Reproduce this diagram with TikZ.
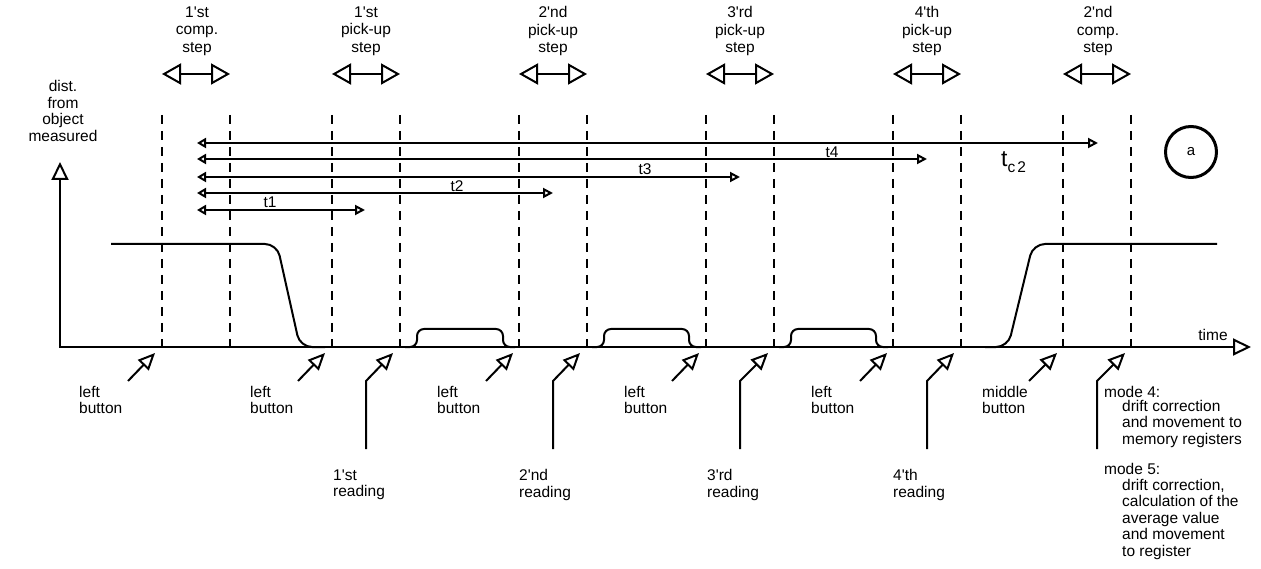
\documentclass[tikz,border=0pt]{standalone}
\usepackage{fontspec}
\setmainfont{Liberation Sans}
\usetikzlibrary{arrows.meta}
\newcommand{\ap}{\textquotesingle}
\begin{document}
\begin{tikzpicture}[x=1pt,y=-1pt,
  lbl/.style={font=\fontsize{15.5}{16.5}\selectfont, inner sep=0pt, align=left, anchor=west},
  toplbl/.style={font=\fontsize{15.5}{17.5}\selectfont, inner sep=0pt, align=center},
  tlbl/.style={font=\fontsize{15.5}{16}\selectfont, inner sep=0pt},
  dline/.style={line width=2.5pt, dash pattern=on 9pt off 7pt},
  sig/.style={line width=2pt, rounded corners=12pt},
  bump/.style={line width=2pt, rounded corners=7pt},
  stepar/.style={line width=2pt, {Triangle[open,length=19pt,width=21pt]}-{Triangle[open,length=19pt,width=21pt]}},
  tar/.style={line width=2pt, {Triangle[open,length=9pt,width=10pt]}-{Triangle[open,length=10pt,width=10pt]}},
  axis/.style={line width=2pt, {Triangle[open,length=18pt,width=17pt]}-{Triangle[open,length=18pt,width=17pt]}},
  barrow/.style={line width=2pt, -{Triangle[open,length=17pt,width=15pt]}},
]
\useasboundingbox (0,0) rectangle (1261,569);

% dashed lines
\foreach \n/\x in {1/162,2/230,3/332,4/400,5/519,6/587,7/706,8/774,9/893,10/961,11/1063,12/1131}{
  \coordinate (dt\n) at (\x,115);
  \coordinate (db\n) at (\x,347);
  \draw[dline] (dt\n) -- (db\n);
}

% step labels and arrows
\node[toplbl] (s1) at (197,31) {1\ap st\\comp.\\step};
\node[toplbl] (s2) at (366,31) {1\ap st\\pick-up\\step};
\node[toplbl] (s3) at (553,31) {2\ap nd\\pick-up\\step};
\node[toplbl] (s4) at (740,31) {3\ap rd\\pick-up\\step};
\node[toplbl] (s5) at (927,31) {4\ap th\\pick-up\\step};
\node[toplbl] (s6) at (1098,31) {2\ap nd\\comp.\\step};
\foreach \a/\b/\n in {162/230/1,332/400/2,519/587/3,706/774/4,893/961/5,1063/1131/6}{
  \coordinate (sl\n) at (\a,74);
  \coordinate (sr\n) at (\b,74);
  \draw[stepar] (sl\n) -- (sr\n);
}

% time interval arrows
\foreach \y/\e/\n in {143/1098/5,159/927/4,177/740/3,193/553/2,210/365/1}{
  \coordinate (tl\n) at (197,\y);
  \coordinate (tr\n) at (\e,\y);
  \draw[tar] (tl\n) -- (tr\n);
}
\node[tlbl] (t1) at (270,202) {t1};
\node[tlbl] (t2) at (457,186) {t2};
\node[tlbl] (t3) at (645,169) {t3};
\node[tlbl] (t4) at (832,152) {t4};
\node[inner sep=0pt, anchor=base west] (tc) at (1001,167)
  {{\fontsize{23}{23}\selectfont t}{\fontsize{15.5}{16}\selectfont\raisebox{-6pt}{c\kern2pt 2}}};

% circle a
\node[circle, draw, line width=3pt, minimum size=51pt, inner sep=0pt,
  font=\fontsize{15}{15}\selectfont] (ca) at (1191,152) {a};

% axes
\coordinate (ytip) at (60,162);
\coordinate (orig) at (60,347);
\coordinate (xtip) at (1251,347);
\draw[axis] (ytip) -- (orig) -- (xtip);
\node[toplbl, font=\fontsize{15.5}{16.4}\selectfont] (ylab) at (63,111) {dist.\\from\\object\\measured};
\node[tlbl] (time) at (1213,335) {time};

% signal
\draw[sig] (111,244) -- (277,244) -- (300,347) -- (325,347);
\draw[sig] (985,347) -- (1008,347) -- (1033,244) -- (1217,244);
\foreach \a/\b in {417/503,604/689,791/876}{
  \draw[bump] (\a-12,347) -- (\a,347) -- (\a,329) -- (\b,329) -- (\b,347) -- (\b+12,347);
}

% bottom arrows (buttons)
\foreach \n/\tx/\hx in {1/128/155,2/298/325,3/486/513,4/672/699,5/860/887,6/1029/1057}{
  \coordinate (bt\n) at (\tx,381);
  \coordinate (bh\n) at (\hx,353);
  \draw[barrow] (bt\n) -- (bh\n);
}
% reading arrows
\foreach \n/\bx/\hx in {1/366/393,2/553/580,3/740/768,4/927/954,5/1097/1125}{
  \coordinate (rb\n) at (\bx,449);
  \coordinate (rk\n) at (\bx,381);
  \coordinate (rh\n) at (\hx,353);
  \draw[barrow] (rb\n) -- (rk\n) -- (rh\n);
}

% bottom labels
\node[lbl] (lb1) at (79,400) {left\\button};
\node[lbl] (lb2) at (250,400) {left\\button};
\node[lbl] (lb3) at (437,400) {left\\button};
\node[lbl] (lb4) at (624,400) {left\\button};
\node[lbl] (lb5) at (811,400) {left\\button};
\node[lbl] (mb) at (982,400) {middle\\button};
\node[lbl] (rd1) at (333,485) {1\ap st\\reading};
\node[lbl] (rd2) at (519,485) {2\ap nd\\reading};
\node[lbl] (rd3) at (707,485) {3\ap rd\\reading};
\node[lbl] (rd4) at (893,485) {4\ap th\\reading};
\node[lbl] (m4) at (1104,392) {mode 4:};
\node[lbl, anchor=north west] (m4t) at (1122,400) {drift correction\\and movement to\\memory registers};
\node[lbl] (m5) at (1104,469) {mode 5:};
\node[lbl, anchor=north west] (m5t) at (1122,479) {drift correction,\\calculation of the\\average value\\and movement\\to register};
\end{tikzpicture}
\end{document}
